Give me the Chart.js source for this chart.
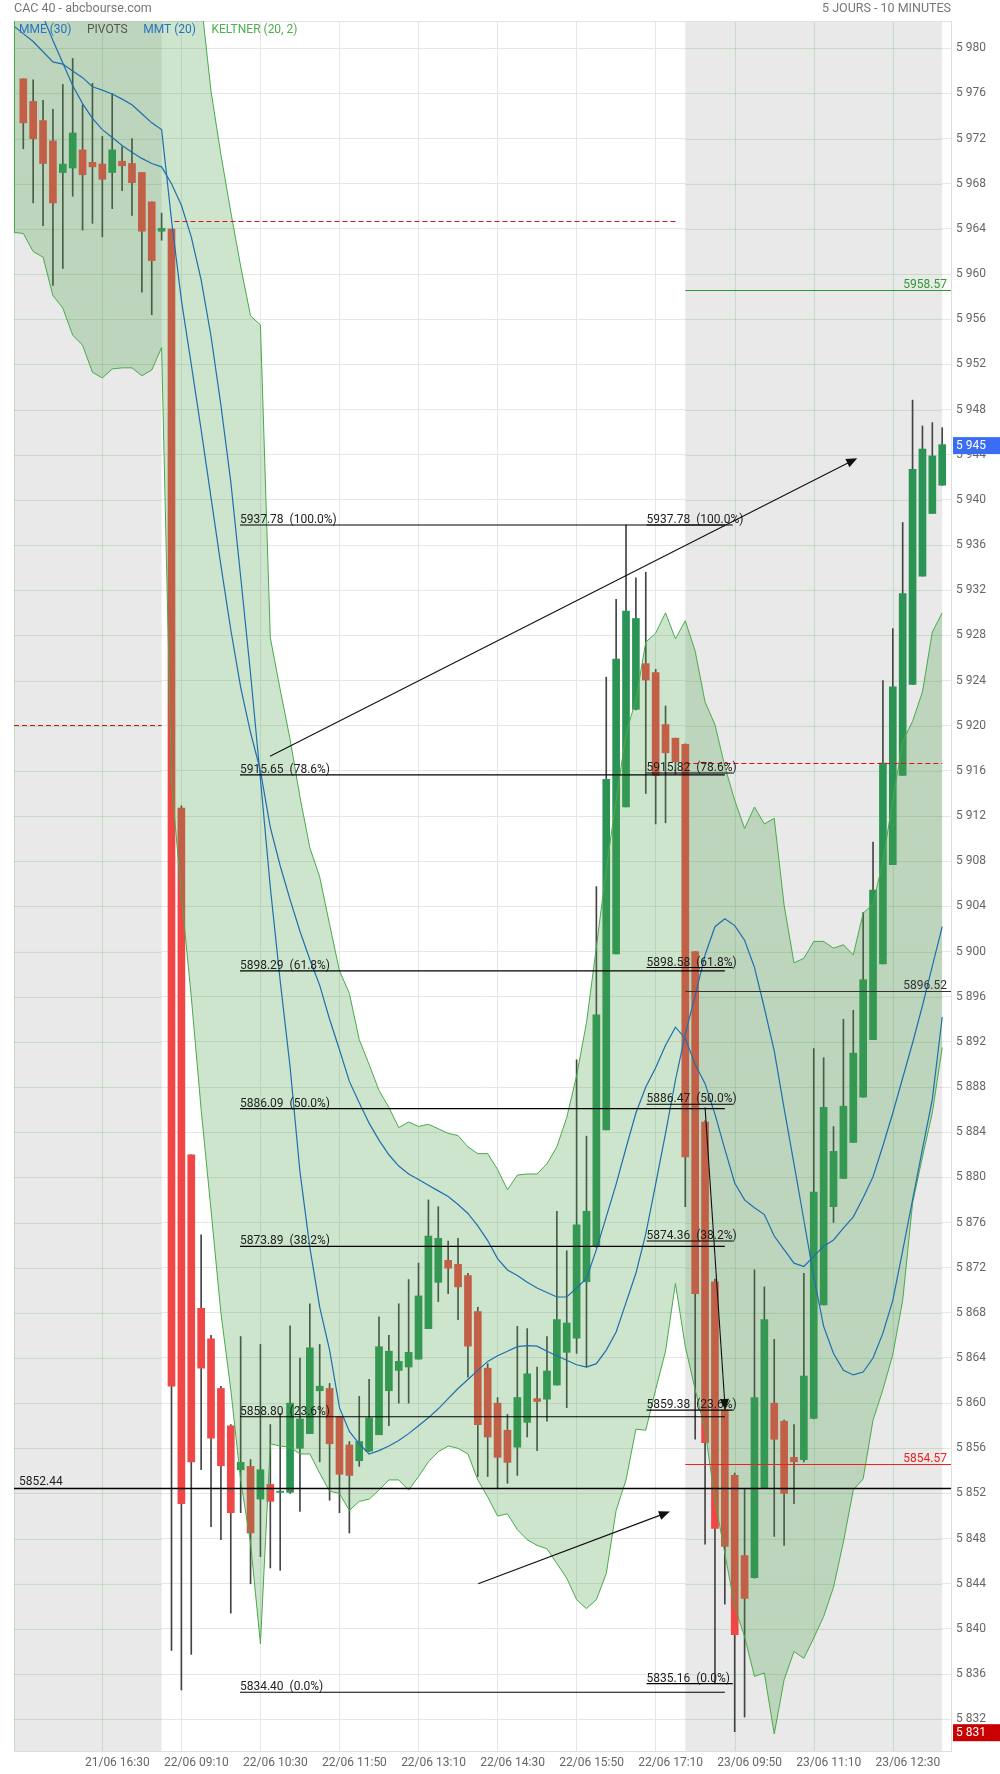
<!DOCTYPE html>
<html>
<head>
<meta charset="utf-8">
<script src="https://cdn.jsdelivr.net/npm/chart.js@4.4.1/dist/chart.umd.min.js"></script>
<style>
  html, body { margin: 0; background: #fff; }
  #cadre { width: 1000px; height: 1774px; }
</style>
</head>
<body>
<div id="cadre"><canvas id="graphique" width="1000" height="1774"></canvas></div>
<script>
// Bougies 10 minutes : index 0 = 21/06 15:10, 15 = 22/06 09:00, 67 = 23/06 09:00
const ouvertures = [
  5977.3, 5975.3, 5973.6, 5971.8, 5969.0, 5969.4, 5971.0, 5969.9, 5969.75, 5969.0,
  5970.0, 5969.8, 5969.0, 5966.4, 5963.8, 5964.0, 5912.7, 5882.0, 5868.4, 5865.7,
  5861.3, 5858.0, 5854.1, 5854.4, 5851.5, 5852.8, 5852.1, 5852.1, 5856.0, 5857.3,
  5861.1, 5861.3, 5858.8, 5856.3, 5854.9, 5855.75, 5857.2, 5861.1, 5862.9, 5863.2,
  5863.9, 5866.6, 5870.7, 5872.65, 5872.3, 5871.3, 5868.1, 5863.1, 5860.0, 5857.6,
  5856.1, 5858.3, 5860.4, 5860.35, 5861.6, 5864.5, 5865.75, 5870.75, 5873.85, 5884.2,
  5899.8, 5912.8, 5921.45, 5925.5, 5924.7, 5920.1, 5918.9, 5918.35, 5900.0, 5884.9,
  5870.75, 5859.4, 5853.6, 5846.5, 5844.55, 5852.5, 5860.0, 5858.4, 5855.2, 5855.0,
  5858.65, 5868.7, 5877.4, 5879.9, 5883.1, 5887.1, 5892.2, 5898.9, 5907.7, 5915.6,
  5923.65, 5933.25, 5938.8, 5941.3
];
const plusHauts = [
  5977.3, 5977.2, 5975.4, 5974.6, 5976.8, 5979.1, 5975.0, 5976.9, 5972.2, 5976.0,
  5971.3, 5972.0, 5969.0, 5966.4, 5965.4, 5964.0, 5912.9, 5882.0, 5874.9, 5866.0,
  5861.5, 5858.1, 5865.9, 5855.0, 5865.2, 5858.1, 5859.1, 5866.85, 5864.0, 5868.8,
  5865.2, 5861.75, 5858.8, 5856.6, 5860.6, 5862.1, 5867.65, 5866.0, 5868.8, 5870.95,
  5872.4, 5878.0, 5877.4, 5874.35, 5874.6, 5871.5, 5868.5, 5863.5, 5860.5, 5859.0,
  5866.8, 5866.6, 5863.2, 5865.9, 5877.0, 5873.5, 5890.4, 5883.65, 5905.75, 5924.3,
  5931.2, 5937.78, 5933.1, 5933.6, 5925.0, 5921.75, 5918.9, 5918.4, 5900.0, 5885.0,
  5871.0, 5860.0, 5853.8, 5852.45, 5871.8, 5870.3, 5865.65, 5858.5, 5858.1, 5871.5,
  5891.4, 5890.6, 5884.5, 5894.0, 5894.8, 5903.45, 5909.7, 5924.0, 5928.6, 5938.0,
  5948.85, 5946.55, 5946.85, 5946.4
];
const plusBas = [
  5971.1, 5966.3, 5964.3, 5959.0, 5960.5, 5966.9, 5963.9, 5964.5, 5963.3, 5965.8,
  5967.4, 5965.2, 5958.4, 5956.4, 5963.0, 5838.1, 5834.6, 5837.75, 5854.1, 5849.05,
  5847.9, 5841.4, 5850.3, 5844.0, 5846.4, 5845.4, 5845.2, 5852.0, 5850.4, 5857.3,
  5854.8, 5851.4, 5850.3, 5848.5, 5854.4, 5855.7, 5857.2, 5858.0, 5860.0, 5860.0,
  5863.9, 5866.6, 5869.0, 5869.7, 5867.4, 5862.3, 5853.5, 5853.5, 5852.5, 5852.9,
  5853.6, 5857.0, 5855.8, 5858.4, 5861.6, 5859.6, 5864.4, 5863.2, 5873.8, 5884.2,
  5899.8, 5912.8, 5921.4, 5914.0, 5911.3, 5911.4, 5915.7, 5877.4, 5856.8, 5847.5,
  5835.16, 5842.2, 5830.9, 5832.2, 5844.5, 5852.5, 5848.2, 5847.4, 5851.1, 5854.8,
  5858.6, 5868.7, 5876.0, 5879.9, 5883.1, 5887.1, 5892.2, 5898.9, 5907.7, 5915.6,
  5923.65, 5933.25, 5938.8, 5941.3
];
const clotures = [
  5973.4, 5972.0, 5969.8, 5966.3, 5969.75, 5972.5, 5968.8, 5969.5, 5968.4, 5971.0,
  5969.6, 5968.1, 5963.8, 5961.2, 5964.05, 5861.5, 5851.1, 5854.8, 5863.1, 5856.9,
  5854.45, 5850.3, 5854.75, 5848.5, 5854.1, 5851.3, 5852.2, 5860.0, 5858.6, 5864.9,
  5861.5, 5856.4, 5853.7, 5853.6, 5856.6, 5858.7, 5865.0, 5864.6, 5863.7, 5864.5,
  5869.5, 5874.8, 5874.6, 5871.95, 5870.3, 5865.05, 5858.1, 5857.0, 5855.2, 5854.75,
  5860.5, 5862.6, 5860.15, 5862.85, 5867.4, 5867.1, 5875.8, 5877.0, 5894.4, 5915.25,
  5925.9, 5930.15, 5929.5, 5924.05, 5915.6, 5917.6, 5916.8, 5881.8, 5869.7, 5856.5,
  5848.9, 5847.3, 5839.5, 5842.7, 5860.5, 5867.4, 5856.8, 5852.0, 5854.8, 5862.4,
  5878.7, 5886.2, 5882.3, 5886.3, 5891.0, 5897.5, 5905.45, 5916.7, 5923.45, 5931.7,
  5942.7, 5944.5, 5943.9, 5944.9
];

// Indicateurs : le premier point est a l'index -1 (bord gauche du graphique)
const premierIndex = -1;
const mme30 = [
  5990, 5987.5, 5985.0, 5982.8, 5980.7, 5978.7, 5976.7, 5975.1, 5973.8, 5972.8,
  5972.1, 5971.4, 5970.8, 5970.25, 5969.8, 5969.5, 5968.0, 5966.1, 5963.3, 5959.5,
  5954.5, 5948.4, 5941.6, 5933.2, 5924.6, 5915.3, 5905.7, 5897.4, 5889.8, 5880.5,
  5873.8, 5868.5, 5864.7, 5859.6, 5857.5, 5856.4, 5855.5, 5855.8, 5856.2, 5856.7,
  5857.3, 5858.0, 5858.7, 5859.5, 5860.4, 5861.3, 5862.1, 5862.9, 5863.7, 5864.2,
  5864.6, 5865.0, 5865.1, 5865.05, 5864.6, 5864.2, 5863.8, 5863.4, 5863.2, 5863.5,
  5864.7, 5866.3, 5868.9, 5871.5, 5875.0, 5879.4, 5883.9, 5888.6, 5892.7, 5896.1,
  5899.7, 5902.2, 5902.9, 5902.3, 5901.0, 5898.6, 5895.0, 5891.2, 5886.1, 5881.2,
  5876.2, 5871.2, 5866.8, 5864.4, 5862.9, 5862.5, 5862.75, 5864.0, 5866.2, 5869.1,
  5873.5, 5878.0, 5882.5, 5886.9, 5894.2
];
const mmt20 = [
  5982.0, 5981.3, 5980.6, 5979.7, 5978.8, 5978.6, 5978.0, 5977.4, 5976.6, 5976.3,
  5975.95, 5975.5, 5975.0, 5974.2, 5973.4, 5972.8, 5964.8, 5957.7, 5952.0, 5946.2,
  5940.2, 5934.2, 5928.5, 5923.4, 5919.4, 5916.0, 5911.0, 5907.6, 5904.6, 5901.8,
  5899.3, 5897.0, 5894.0, 5891.3, 5888.5, 5886.6, 5884.8, 5883.3, 5882.0, 5881.0,
  5880.3, 5879.8, 5879.3, 5878.8, 5878.3, 5877.6, 5876.8, 5875.7, 5874.4, 5872.8,
  5871.8, 5871.3, 5870.7, 5870.2, 5869.8, 5869.4, 5869.4, 5870.2, 5871.05, 5873.6,
  5876.5, 5879.4, 5882.6, 5885.7, 5888.0, 5889.7, 5891.7, 5893.3, 5892.3, 5890.0,
  5888.3, 5885.6, 5882.5, 5879.5, 5878.0, 5877.3, 5876.7, 5874.8, 5873.6, 5872.4,
  5872.1, 5873.0, 5873.9, 5874.45, 5875.5, 5876.5, 5878.2, 5880.05, 5882.8, 5885.7,
  5888.8, 5891.9, 5895.2, 5898.7, 5902.2
];
const keltnerHaut = [
  5992, 5992, 5992, 5992, 5992, 5992, 5992, 5992, 5992, 5992,
  5992, 5992, 5992, 5992, 5992, 5992, 5992, 5992, 5990, 5984.2,
  5976.2, 5970.6, 5965.5, 5960.7, 5956.3, 5955.5, 5927.8, 5923.2, 5918.8, 5913.7,
  5909.2, 5906.6, 5902.4, 5898.3, 5896.3, 5892.2, 5890.0, 5887.7, 5886.2, 5884.4,
  5884.9, 5884.5, 5884.7, 5884.3, 5883.9, 5883.7, 5882.7, 5882.1, 5882.1, 5880.7,
  5878.9, 5880.2, 5880.3, 5880.3, 5881.2, 5882.7, 5885.3, 5889.0, 5893.7, 5900.4,
  5907.3, 5913.4, 5919.3, 5922.3, 5927.4, 5928.2, 5930.0, 5927.7, 5929.3, 5926.6,
  5922.1, 5920.1, 5916.4, 5913.4, 5910.9, 5912.8, 5911.3, 5911.8, 5904.1, 5899.0,
  5899.4, 5900.9, 5900.9, 5900.3, 5900.6, 5899.7, 5903.4, 5904.2, 5908.0, 5913.4,
  5918.6, 5920.4, 5923.0, 5928.3, 5930.0
];
const keltnerBas = [
  5963.7, 5963.6, 5962.0, 5961.5, 5958.1, 5957.0, 5954.6, 5953.7, 5951.3, 5950.8,
  5951.6, 5951.7, 5951.7, 5951.0, 5951.5, 5953.5, 5915.0, 5905.0, 5896.0, 5886.0,
  5877.1, 5868.0, 5861.2, 5853.2, 5847.6, 5838.7, 5856.4, 5856.2, 5856.1, 5855.5,
  5855.5, 5853.8, 5852.2, 5852.0, 5850.5, 5851.3, 5851.5, 5852.3, 5853.2, 5853.2,
  5852.3, 5853.5, 5854.8, 5855.7, 5856.2, 5856.0, 5855.5, 5853.2, 5851.7, 5850.0,
  5850.2, 5848.8, 5847.9, 5847.4, 5847.1, 5845.8, 5844.5, 5842.6, 5841.8, 5842.6,
  5844.9, 5850.5, 5853.2, 5857.7, 5857.6, 5861.2, 5864.6, 5870.6, 5865.0, 5861.2,
  5857.6, 5851.4, 5846.7, 5842.0, 5839.3, 5835.8, 5836.1, 5830.7, 5835.5, 5838.0,
  5837.4, 5839.2, 5841.1, 5843.7, 5847.7, 5852.3, 5853.3, 5858.5, 5861.2, 5864.3,
  5869.1, 5877.7, 5881.8, 5885.7, 5891.5
];

// Axes
const ticksX = [8, 16, 24, 32, 40, 48, 56, 64, 72, 80, 88];
const labelsX = ["21/06 16:30", "22/06 09:10", "22/06 10:30", "22/06 11:50", "22/06 13:10",
  "22/06 14:30", "22/06 15:50", "22/06 17:10", "23/06 09:50", "23/06 11:10", "23/06 12:30"];
const ticksY = [5832, 5836, 5840, 5844, 5848, 5852, 5856, 5860, 5864, 5868, 5872, 5876,
  5880, 5884, 5888, 5892, 5896, 5900, 5904, 5908, 5912, 5916, 5920, 5924, 5928, 5932,
  5936, 5940, 5944, 5948, 5952, 5956, 5960, 5964, 5968, 5972, 5976, 5980];

// Traces (en index de bougie / valeur)
const joursGris = [[-0.94, 14], [67, 93]];
const fibNiveaux1 = [5937.78, 5915.65, 5898.29, 5886.09, 5873.89, 5858.80, 5834.40];
const fibNiveaux2 = [5937.78, 5915.82, 5898.58, 5886.47, 5874.36, 5859.38, 5835.16];
const fibPourcents = ["100.0%", "78.6%", "61.8%", "50.0%", "38.2%", "23.6%", "0.0%"];
const fibBornes1 = [21.93, 71.0];
const fibBornes2 = [63.08, 71.8];
const fleches = [[24.97, 5917.3, 84.4, 5943.7], [46.04, 5844.0, 65.44, 5850.4], [69.0, 5886.2, 71.04, 5859.4]];
const pivots = [[-0.94, 14, 5920.1], [15.3, 66, 5964.7], [67, 93, 5916.7]];
const niveauxJour = [5958.57, 5896.52, 5854.57];
const niveauLong = 5852.44;

const vert = "#2b9455";
const rouge = "#f04646";
const bleu = "#1f6fae";
const vertKeltner = "#4aaa4a";

Chart.defaults.font.family = "Roboto, 'Liberation Sans', sans-serif";

const versPoints = (serie) => serie.map((v, i) => ({ x: i + premierIndex, y: v }));
const formatMillier = (v) => String(Math.round(v)).replace(/\B(?=(\d{3})+(?!\d))/g, " ");

function fleche(ctx, x0, y0, x1, y1) {
  const ang = Math.atan2(y1 - y0, x1 - x0);
  const L = 11, W = 4.5;
  ctx.beginPath();
  ctx.moveTo(x0, y0);
  ctx.lineTo(x1 - L * 0.6 * Math.cos(ang), y1 - L * 0.6 * Math.sin(ang));
  ctx.stroke();
  ctx.beginPath();
  ctx.moveTo(x1, y1);
  ctx.lineTo(x1 - L * Math.cos(ang) + W * Math.sin(ang), y1 - L * Math.sin(ang) - W * Math.cos(ang));
  ctx.lineTo(x1 - L * Math.cos(ang) - W * Math.sin(ang), y1 - L * Math.sin(ang) + W * Math.cos(ang));
  ctx.closePath();
  ctx.fill();
}

const decor = {
  id: "decor",
  beforeDraw(chart) {
    const { ctx, chartArea: a, scales: { x } } = chart;
    ctx.save();
    ctx.fillStyle = "#fff";
    ctx.fillRect(0, 0, chart.width, chart.height);
    ctx.fillStyle = "#e9e9e9";
    joursGris.forEach(([de, a2]) => {
      const x0 = Math.max(a.left, x.getPixelForValue(de));
      const x1 = Math.min(a.right, x.getPixelForValue(a2));
      ctx.fillRect(x0, a.top, x1 - x0, a.bottom - a.top);
    });
    ctx.restore();
  },
  beforeDatasetsDraw(chart) {
    const { ctx, chartArea: a, scales: { x, y } } = chart;
    ctx.save();
    ctx.strokeStyle = "rgba(110,190,110,0.28)";
    ctx.lineWidth = 1;
    joursGris.forEach(([de, a2]) => {
      const x0 = Math.max(a.left, x.getPixelForValue(de));
      const x1 = Math.min(a.right, x.getPixelForValue(a2));
      ticksY.forEach((v) => {
        const py = Math.round(y.getPixelForValue(v)) + 0.5;
        ctx.beginPath(); ctx.moveTo(x0, py); ctx.lineTo(x1, py); ctx.stroke();
      });
      ticksX.forEach((t) => {
        const px = Math.round(x.getPixelForValue(t)) + 0.5;
        if (px < x0 || px > x1) return;
        ctx.beginPath(); ctx.moveTo(px, a.top); ctx.lineTo(px, a.bottom); ctx.stroke();
      });
      if (x0 === a.left) {
        ctx.beginPath(); ctx.moveTo(a.left + 0.5, a.top); ctx.lineTo(a.left + 0.5, a.bottom); ctx.stroke();
      }
    });
    ctx.strokeStyle = "#e2e2e2";
    ctx.beginPath();
    ctx.moveTo(a.left, a.top + 0.5); ctx.lineTo(a.right, a.top + 0.5);
    ctx.stroke();
    ctx.restore();
  },
  afterDatasetsDraw(chart) {
    const { ctx, chartArea: a, scales: { x, y } } = chart;
    const px = (i) => x.getPixelForValue(i);
    const py = (v) => y.getPixelForValue(v);
    ctx.save();
    ctx.beginPath();
    ctx.rect(a.left, a.top, a.right - a.left, a.bottom - a.top);
    ctx.clip();

    // bord gauche de la bande de Keltner
    ctx.strokeStyle = vertKeltner;
    ctx.lineWidth = 1;
    ctx.beginPath();
    ctx.moveTo(a.left + 0.5, a.top);
    ctx.lineTo(a.left + 0.5, py(keltnerBas[0]));
    ctx.stroke();

    // pivots
    ctx.strokeStyle = "#e01010";
    ctx.setLineDash([5, 3]);
    pivots.forEach(([de, a2, v]) => {
      const yy = Math.round(py(v)) + 0.5;
      ctx.beginPath(); ctx.moveTo(Math.max(a.left, px(de)), yy); ctx.lineTo(px(a2), yy); ctx.stroke();
    });
    ctx.setLineDash([]);

    ctx.font = "12px Roboto, sans-serif";
    ctx.textBaseline = "alphabetic";

    // niveaux du jour
    const couleursJour = ["#2e9a2e", "#333", "#f02020"];
    niveauxJour.forEach((v, k) => {
      const yy = Math.round(py(v)) + 0.5;
      ctx.strokeStyle = couleursJour[k];
      ctx.beginPath(); ctx.moveTo(px(67), yy); ctx.lineTo(a.right, yy); ctx.stroke();
      ctx.fillStyle = couleursJour[k];
      ctx.textAlign = "right";
      ctx.fillText(v.toFixed(2), a.right - 4, yy - 3);
    });

    // niveau long
    ctx.strokeStyle = "#000";
    ctx.lineWidth = 1.3;
    const yl = py(niveauLong);
    ctx.beginPath(); ctx.moveTo(a.left, yl); ctx.lineTo(a.right, yl); ctx.stroke();
    ctx.fillStyle = "#222";
    ctx.textAlign = "left";
    ctx.fillText(niveauLong.toFixed(2), a.left + 5, yl - 4);

    // Fibonacci
    ctx.lineWidth = 1.1;
    [[fibNiveaux1, fibBornes1], [fibNiveaux2, fibBornes2]].forEach(([niveaux, bornes]) => {
      niveaux.forEach((v, k) => {
        const yy = py(v);
        ctx.strokeStyle = "#000";
        ctx.beginPath(); ctx.moveTo(px(bornes[0]), yy); ctx.lineTo(px(bornes[1]), yy); ctx.stroke();
        ctx.fillStyle = "#222";
        ctx.textAlign = "left";
        ctx.fillText(v.toFixed(2) + "  (" + fibPourcents[k] + ")", px(bornes[0]), yy - 2);
      });
    });

    // fleches
    ctx.strokeStyle = "#111";
    ctx.fillStyle = "#111";
    ctx.lineWidth = 1.1;
    fleches.forEach(([i0, v0, i1, v1]) => fleche(ctx, px(i0), py(v0), px(i1), py(v1)));
    ctx.restore();
  },
  afterDraw(chart) {
    const { ctx, chartArea: a, scales: { y } } = chart;
    ctx.save();
    ctx.textBaseline = "middle";
    ctx.font = "12.5px Roboto, sans-serif";
    ctx.fillStyle = "#777";
    ctx.textAlign = "left";
    ctx.fillText("CAC 40 - abcbourse.com", a.left, 9);
    ctx.textAlign = "right";
    ctx.fillText("5 JOURS - 10 MINUTES", a.right, 9);

    // legende
    ctx.font = "12px Roboto, sans-serif";
    ctx.textAlign = "left";
    const legende = [["MME (30)", "#2a72c0"], ["PIVOTS", "#555"], ["MMT (20)", "#2a72c0"], ["KELTNER (20, 2)", "#4caf50"]];
    let xl = a.left + 5;
    legende.forEach(([t, c]) => {
      ctx.fillStyle = c;
      ctx.fillText(t, xl, a.top + 8.5);
      xl += ctx.measureText(t).width + 15.5;
    });

    // etiquettes de prix
    const dernier = clotures[clotures.length - 1];
    const minimum = Math.min(...plusBas);
    [[dernier, "#3a6cf4", 5945], [minimum, "#c80000", 5831]].forEach(([v, c, t]) => {
      const yy = y.getPixelForValue(v) + 1;
      ctx.fillStyle = c;
      ctx.fillRect(a.right + 2, yy - 8.5, chart.width - a.right - 2, 17);
      ctx.fillStyle = "#fff";
      ctx.fillText(formatMillier(t), a.right + 5, yy + 0.5);
    });
    ctx.restore();
  }
};

const indices = ouvertures.map((_, i) => i);
const couleursCorps = indices.map((i) => (clotures[i] >= ouvertures[i] ? vert : rouge));

const ctx = document.querySelector("#graphique");

new Chart(ctx, {
  type: "line",

  data: {
    datasets: [
      {
        label: "MME (30)",
        data: versPoints(mme30),
        borderColor: bleu,
        borderWidth: 1.2,
        pointRadius: 0,
        tension: 0,
        order: 1,
      },
      {
        label: "MMT (20)",
        data: versPoints(mmt20),
        borderColor: bleu,
        borderWidth: 1.2,
        pointRadius: 0,
        tension: 0,
        order: 1,
      },
      {
        label: "Keltner haut",
        data: versPoints(keltnerHaut),
        borderColor: vertKeltner,
        borderWidth: 1,
        pointRadius: 0,
        tension: 0,
        fill: false,
        order: 2,
      },
      {
        label: "Keltner bas",
        data: versPoints(keltnerBas),
        borderColor: vertKeltner,
        borderWidth: 1,
        pointRadius: 0,
        tension: 0,
        fill: "-1",
        backgroundColor: "rgba(76,160,76,0.28)",
        order: 2,
      },
      {
        type: "bar",
        label: "Corps",
        data: indices.map((i) => ({ x: i, y: [ouvertures[i], clotures[i]] })),
        backgroundColor: couleursCorps,
        barThickness: 7,
        grouped: false,
        minBarLength: 1,
        borderWidth: 0,
        order: 3,
      },
      {
        type: "bar",
        label: "Meches",
        data: indices.map((i) => ({ x: i, y: [plusBas[i], plusHauts[i]] })),
        backgroundColor: "#444",
        barThickness: 1,
        grouped: false,
        borderWidth: 0,
        order: 4,
      },
    ],
  },

  options: {
    responsive: false,
    animation: false,
    events: [],
    layout: { padding: { left: 14, top: 21, right: 0, bottom: 0 } },
    plugins: { legend: { display: false }, tooltip: { enabled: false } },
    scales: {
      x: {
        type: "linear",
        min: -0.94,
        max: 93.89,
        offset: false,
        afterBuildTicks: (s) => { s.ticks = ticksX.map((v) => ({ value: v })); },
        afterFit: (s) => { s.height = 23; },
        ticks: {
          callback: (v) => labelsX[ticksX.indexOf(v)],
          color: "#666",
          font: { size: 12 },
          labelOffset: 15,
          padding: 5,
          maxRotation: 0,
          autoSkip: false,
        },
        grid: { color: "#e6e6e6", drawTicks: false, offset: false },
        border: { display: true, color: "#dedede" },
      },
      y: {
        type: "linear",
        position: "right",
        min: 5829.19,
        max: 5982.42,
        beginAtZero: false,
        afterBuildTicks: (s) => { s.ticks = ticksY.map((v) => ({ value: v })); },
        afterFit: (s) => { s.width = 49; },
        ticks: { callback: (v) => formatMillier(v), color: "#666", font: { size: 12 }, padding: 5 },
        grid: { color: "#e6e6e6", drawTicks: false },
        border: { display: true, color: "#dedede" },
      },
    },
  },
  plugins: [decor],
});
</script>
</body>
</html>
